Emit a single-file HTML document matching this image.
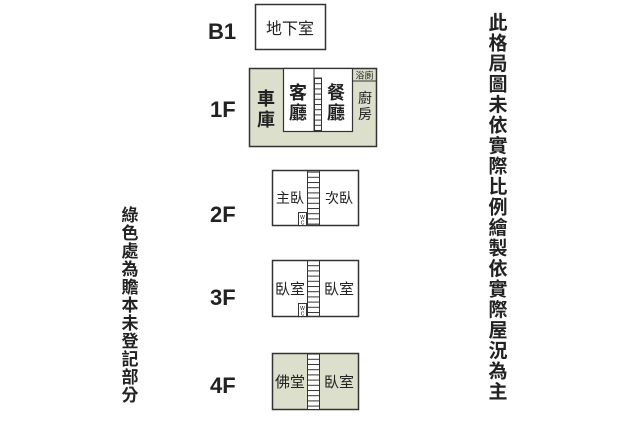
<!DOCTYPE html>
<html><head><meta charset="utf-8"><style>
body{margin:0;width:640px;height:416px;background:#fff;overflow:hidden;font-family:"Liberation Sans","Noto Sans CJK TC",sans-serif;}
</style></head><body>
<svg width="640" height="416" xmlns="http://www.w3.org/2000/svg" font-family="Liberation Sans, Noto Sans CJK TC, sans-serif">
<defs>
<pattern id="rung" x="0" y="0" width="12" height="5.2" patternUnits="userSpaceOnUse"><line x1="0" y1="0.5" x2="12" y2="0.5" stroke="#333" stroke-width="1"/></pattern>
</defs>
<g font-size="22" font-weight="bold" fill="#222">
<text x="208" y="39">B1</text>
<text x="210" y="117">1F</text>
<text x="210" y="222">2F</text>
<text x="210" y="305">3F</text>
<text x="210" y="393">4F</text>
</g>
<rect x="255.5" y="4.5" width="70" height="45" fill="#fff" stroke="#333" stroke-width="1.5"/>
<text x="290" y="34" font-size="16" text-anchor="middle" fill="#222">地下室</text>
<rect x="249.5" y="68.5" width="127" height="78" fill="#dcdfcb" stroke="#333" stroke-width="1.5"/>
<rect x="283.5" y="68.5" width="69" height="63" fill="#fff" stroke="#333" stroke-width="1.2"/>
<line x1="314" y1="68" x2="314" y2="132" stroke="#333"/>
<rect x="314.5" y="78" width="7" height="53" fill="url(#rung)" stroke="#333"/>
<line x1="352" y1="81" x2="377" y2="81" stroke="#333"/>
<text x="364.5" y="78.5" font-size="9" text-anchor="middle" fill="#222">浴廁</text>
<g font-size="18" font-weight="bold" fill="#222" text-anchor="middle">
<text x="266" y="105">車</text><text x="266" y="126">庫</text>
<text x="298" y="99">客</text><text x="298" y="119">廳</text>
<text x="336" y="99">餐</text><text x="336" y="119">廳</text>
</g>
<g font-size="14" fill="#222" text-anchor="middle">
<text x="365" y="103">廚</text><text x="365" y="119">房</text>
</g>
<rect x="272.5" y="170.5" width="86" height="55" fill="#fff" stroke="#333" stroke-width="1.5"/>
<rect x="307.5" y="170.5" width="12" height="55" fill="url(#rung)" stroke="#333"/>
<rect x="298.5" y="212.5" width="8" height="13" fill="#fff" stroke="#333"/>
<text x="302.5" y="219" font-size="5" text-anchor="middle">W</text><text x="302.5" y="224.5" font-size="5" text-anchor="middle">C</text>
<text x="290" y="203" font-size="14" text-anchor="middle" fill="#222">主臥</text>
<text x="339" y="203" font-size="14" text-anchor="middle" fill="#222">次臥</text>
<rect x="272.5" y="260.5" width="86" height="56" fill="#fff" stroke="#333" stroke-width="1.5"/>
<rect x="307.5" y="260.5" width="12" height="56" fill="url(#rung)" stroke="#333"/>
<rect x="298.5" y="303.5" width="8" height="13" fill="#fff" stroke="#333"/>
<text x="302.5" y="310" font-size="5" text-anchor="middle">W</text><text x="302.5" y="315.5" font-size="5" text-anchor="middle">C</text>
<text x="290" y="294" font-size="15" text-anchor="middle" fill="#222">臥室</text>
<text x="339" y="294" font-size="15" text-anchor="middle" fill="#222">臥室</text>
<rect x="272.5" y="353.5" width="86" height="56" fill="#dcdfcb" stroke="#333" stroke-width="1.5"/>
<rect x="307.5" y="353.5" width="12" height="56" fill="#fff" stroke="#333"/>
<rect x="307.5" y="353.5" width="12" height="56" fill="url(#rung)" stroke="#333"/>
<text x="290" y="387" font-size="15" text-anchor="middle" fill="#222">佛堂</text>
<text x="339" y="387" font-size="15" text-anchor="middle" fill="#222">臥室</text>
<g font-size="19" fill="#222" text-anchor="middle" font-weight="bold">
<text x="498" y="29">此</text><text x="498" y="49.5">格</text><text x="498" y="70">局</text><text x="498" y="90.5">圖</text><text x="498" y="111">未</text><text x="498" y="131.5">依</text><text x="498" y="152">實</text><text x="498" y="172.5">際</text><text x="498" y="193">比</text><text x="498" y="213.5">例</text><text x="498" y="234">繪</text><text x="498" y="254.5">製</text><text x="498" y="275">依</text><text x="498" y="295.5">實</text><text x="498" y="316">際</text><text x="498" y="336.5">屋</text><text x="498" y="357">況</text><text x="498" y="377.5">為</text><text x="498" y="398">主</text>
</g>
<g font-size="17" fill="#222" text-anchor="middle" font-weight="bold">
<text x="130" y="221">綠</text><text x="130" y="239">色</text><text x="130" y="257">處</text><text x="130" y="275">為</text><text x="130" y="293">贍</text><text x="130" y="311">本</text><text x="130" y="329">未</text><text x="130" y="347">登</text><text x="130" y="365">記</text><text x="130" y="383">部</text><text x="130" y="401">分</text>
</g>
</svg>
</body></html>
